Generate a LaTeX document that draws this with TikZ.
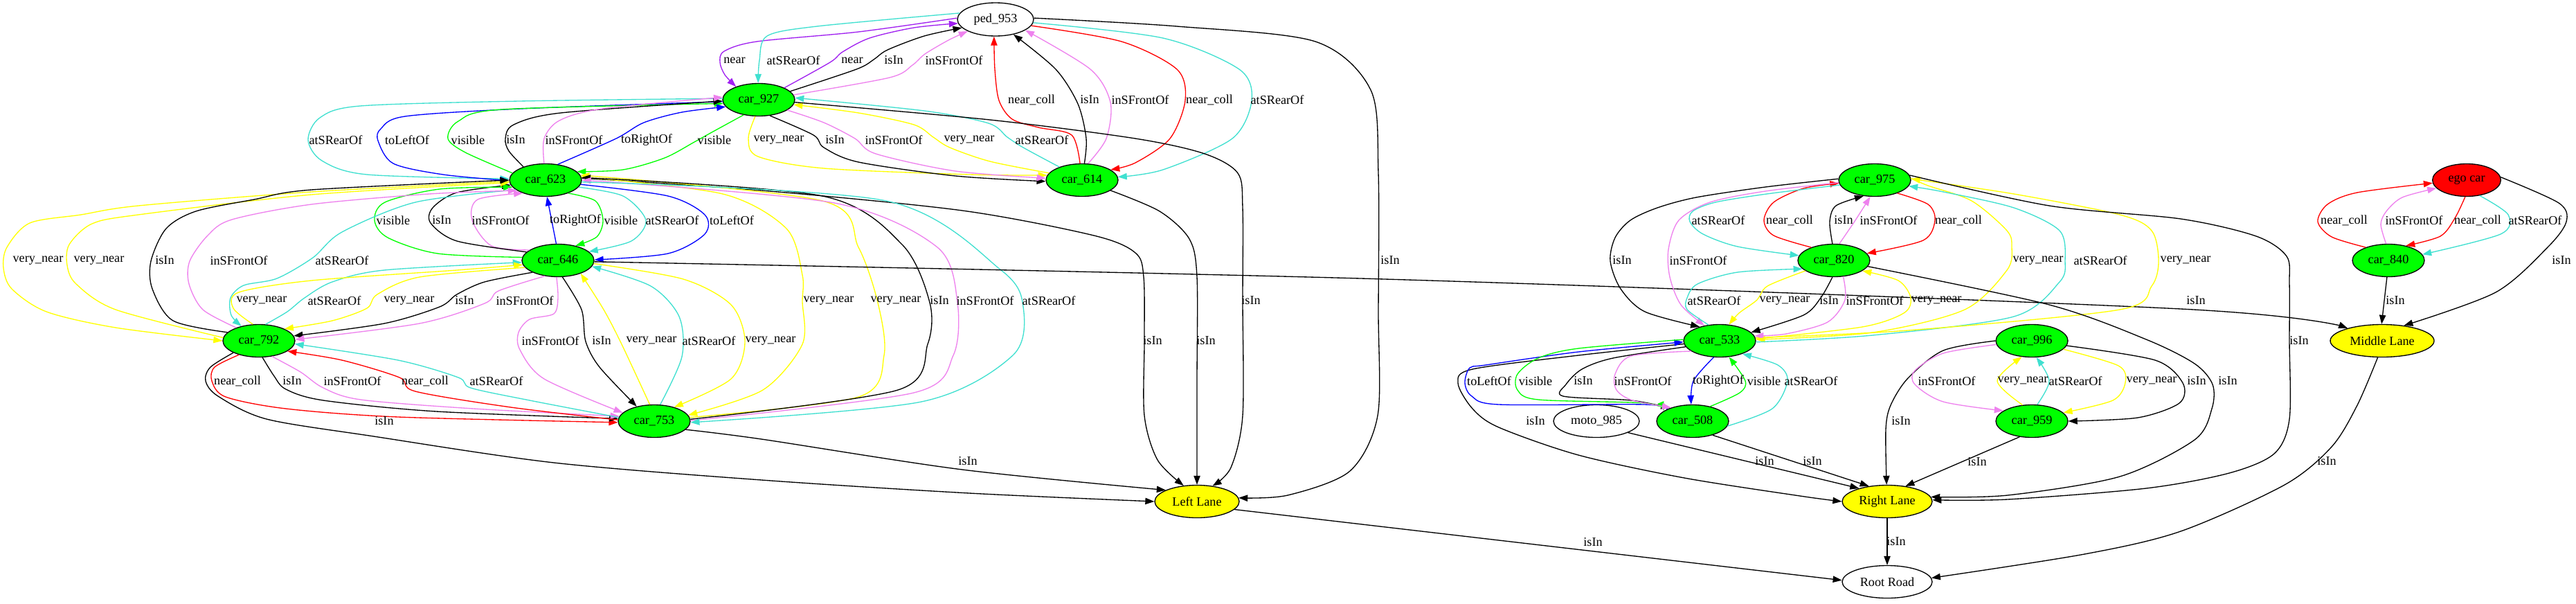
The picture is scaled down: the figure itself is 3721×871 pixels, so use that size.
\documentclass[tikz,border=0pt]{standalone}
\usepackage{fontspec}
\setmainfont{Liberation Serif}
\usetikzlibrary{shapes.geometric,arrows.meta}
\definecolor{gvturq}{HTML}{40E0D0}
\definecolor{gvviolet}{HTML}{EE82EE}
\definecolor{gvpurple}{HTML}{A020F0}
\definecolor{gvyellow}{HTML}{FFFF00}
\definecolor{gvgreen}{HTML}{00FF00}
\definecolor{gvblue}{HTML}{0000FF}
\definecolor{gvred}{HTML}{FF0000}
\newcommand\gvf{\fontsize{13.65}{16}\selectfont}
\tikzset{
  nd/.style={ellipse, draw=black, line width=1pt, minimum width=78pt, minimum height=35.25pt, inner sep=0pt, font=\gvf},
  gn/.style={nd, fill=gvgreen},
  yl/.style={nd, fill=gvyellow},
  ed/.style={line width=1pt, -{Triangle[length=9.75pt,width=7pt]}},
  ek/.style={ed, draw=black, -{Triangle[length=9.75pt,width=7pt,fill=black]}},
  et/.style={ed, draw=gvturq, -{Triangle[length=9.75pt,width=7pt,fill=gvturq]}},
  ev/.style={ed, draw=gvviolet, -{Triangle[length=9.75pt,width=7pt,fill=gvviolet]}},
  ep/.style={ed, draw=gvpurple, -{Triangle[length=9.75pt,width=7pt,fill=gvpurple]}},
  ey/.style={ed, draw=gvyellow, -{Triangle[length=9.75pt,width=7pt,fill=gvyellow]}},
  eg/.style={ed, draw=gvgreen, -{Triangle[length=9.75pt,width=7pt,fill=gvgreen]}},
  eb/.style={ed, draw=gvblue, -{Triangle[length=9.75pt,width=7pt,fill=gvblue]}},
  er/.style={ed, draw=gvred, -{Triangle[length=9.75pt,width=7pt,fill=gvred]}},
  lb/.style={inner sep=0pt, font=\gvf},
}
\begin{document}
\begin{tikzpicture}[x=0.75pt, y=-0.75pt]
\useasboundingbox (0,0) rectangle (3721,871);
\fill[white] (0,0) rectangle (3721,871);
% nodes
\node[nd, minimum width=82.5pt, minimum height=36pt] (ped) at (1438,28) {ped\_953};
\node[gn] (c927) at (1096,144) {car\_927};
\node[gn] (c623) at (788,260) {car\_623};
\node[gn] (c614) at (1563,260) {car\_614};
\node[gn] (c975) at (2708,260) {car\_975};
\node[nd, fill=gvred, minimum width=74pt] (ego) at (3563,260) {ego car};
\node[gn] (c646) at (806,376) {car\_646};
\node[gn] (c820) at (2649,376) {car\_820};
\node[gn] (c840) at (3450,376) {car\_840};
\node[gn] (c792) at (374,492) {car\_792};
\node[gn] (c533) at (2484,492) {car\_533};
\node[gn] (c996) at (2935,492) {car\_996};
\node[yl, minimum width=112.5pt] (mid) at (3441,492) {Middle Lane};
\node[gn] (c753) at (945,608) {car\_753};
\node[nd, minimum width=93pt] (moto) at (2306,608) {moto\_985};
\node[gn] (c508) at (2445,608) {car\_508};
\node[gn] (c959) at (2935,608) {car\_959};
\node[yl, minimum width=91.5pt] (left) at (1729,724) {Left Lane};
\node[yl, minimum width=97.5pt] (right) at (2726,724) {Right Lane};
\node[nd, minimum width=97.5pt] (root) at (2726,840) {Root Road};

% ped / car_927
\draw[ep] plot[smooth] coordinates {(ped.178) (1240,46) (1093,60) (1046,74) (1040,90) (1047,108) (c927.150)};
\draw[et] plot[smooth] coordinates {(ped.170) (1180,38) (1108,52) (1097,87) (c927.92)};
\draw[ep] plot[smooth] coordinates {(c927.25) (1199,90) (1217,75) (1256,55) (1320,40) (ped.186)};
\draw[ek] plot[smooth] coordinates {(c927.15) (1237,100) (1262,86) (1282,72) (1335,52) (ped.194)};
\draw[ev] plot[smooth] coordinates {(c927.8) (1285,112) (1318,94) (1336,78) (1370,58) (ped.203)};
% car_614 <-> ped
\draw[er] plot[smooth] coordinates {(c614.97) (1548,195) (1500,184) (1462,172) (1443,145) (1437,100) (ped.265)};
\draw[ek] plot[smooth] coordinates {(c614.82) (1569,200) (1557,150) (1525,100) (ped.320)};
\draw[ev] plot[smooth] coordinates {(c614.70) (1598,200) (1604,148) (1575,100) (ped.340)};
\draw[er] plot[smooth] coordinates {(ped.350) (1620,60) (1700,100) (1712,145) (1690,200) (1640,235) (c614.20)};
\draw[et] plot[smooth] coordinates {(ped.355) (1680,55) (1790,100) (1808,145) (1780,200) (1680,245) (c614.5)};
\draw[ek] plot[smooth] coordinates {(ped.2) (1700,38) (1900,60) (1980,130) (1991,250) (1991,450) (1990,600) (1950,680) (1860,715) (left.5)};
% car_927 <-> car_623
\draw[et] plot[smooth] coordinates {(c927.178) (750,146) (520,153) (462,170) (445,202) (465,232) (530,252) (c623.178)};
\draw[eb] plot[smooth] coordinates {(c927.183) (752,157) (585,168) (550,186) (546,203) (568,236) (640,252) (c623.181)};
\draw[eg] plot[smooth] coordinates {(c623.168) (672,220) (647,200) (662,175) (725,158) (c927.186)};
\draw[ek] plot[smooth] coordinates {(c623.149) (735,218) (730,200) (742,180) (810,163) (c927.182)};
\draw[ev] plot[smooth] coordinates {(c623.95) (786,200) (808,174) (870,157) (c927.176)};
\draw[eb] plot[smooth] coordinates {(c623.52) (890,200) (930,177) (985,162) (c927.192)};
\draw[eg] plot[smooth] coordinates {(c927.225) (1030,190) (1003,205) (960,228) (900,245) (c623.15)};
% car_927 <-> car_614
\draw[ey] plot[smooth] coordinates {(c927.258) (1081,200) (1095,226) (1190,243) (1400,252) (c614.172)};
\draw[ek] plot[smooth] coordinates {(c927.305) (1175,195) (1190,213) (1240,234) (1380,254) (c614.182)};
\draw[ev] plot[smooth] coordinates {(c927.340) (1190,177) (1235,200) (1265,222) (1380,247) (c614.177)};
\draw[ey] plot[smooth] coordinates {(c614.168) (1430,233) (1372,213) (1348,198) (1320,180) (1240,163) (c927.352)};
\draw[et] plot[smooth] coordinates {(c614.150) (1478,213) (1455,198) (1428,178) (1335,160) (c927.3)};
% -> Left Lane
\draw[ek] plot[smooth] coordinates {(c927.356) (1430,173) (1640,200) (1740,222) (1788,250) (1795,300) (1795,434) (1795,600) (1778,675) (left.45)};
\draw[ek] plot[smooth] coordinates {(c623.3) (1100,275) (1390,304) (1580,340) (1640,365) (1652,400) (1653,492) (1653,600) (1672,664) (left.130)};
\draw[ek] plot[smooth] coordinates {(c614.340) (1675,305) (1718,345) (1729,400) (1729,550) (left.90)};
% car_623 <-> car_646
\draw[eg] plot[smooth] coordinates {(c623.330) (860,290) (871,318) (862,342) (c646.40)};
\draw[et] plot[smooth] coordinates {(c623.348) (900,283) (933,318) (912,348) (c646.16)};
\draw[eb] plot[smooth] coordinates {(c623.353) (965,283) (1018,310) (1018,338) (965,366) (c646.1)};
\draw[eb] (c646.96) -- (c623.275);
\draw[ev] plot[smooth] coordinates {(c646.160) (710,355) (682,318) (690,288) (c623.210)};
\draw[ek] plot[smooth] coordinates {(c646.165) (660,348) (622,322) (625,300) (660,278) (c623.188)};
\draw[eg] plot[smooth] coordinates {(c646.175) (632,366) (560,343) (541,318) (556,292) (635,273) (c623.192)};
% car_623 <-> car_792
\draw[et] plot[smooth] coordinates {(c623.198) (600,292) (494,335) (452,372) (400,402) (352,412) (333,430) (334,455) (c792.140)};
\draw[ey] plot[smooth] coordinates {(c623.182) (450,277) (200,297) (117,310) (43,322) (10,357) (5,387) (17,417) (67,450) (167,473) (c792.180)};
\draw[ey] plot[smooth] coordinates {(c792.175) (167,447) (110,410) (97,383) (100,353) (133,323) (200,310) (450,281) (c623.184)};
\draw[ek] plot[smooth] coordinates {(c792.165) (250,463) (220,417) (218,377) (240,330) (283,305) (367,288) (450,274) (c623.180)};
\draw[ev] plot[smooth] coordinates {(c792.150) (293,447) (273,410) (274,377) (300,340) (335,317) (450,295) (620,280) (c623.200)};
% car_646 <-> car_792
\draw[et] plot[smooth] coordinates {(c792.68) (415,450) (440,430) (480,407) (555,390) (c646.183)};
\draw[ey] plot[smooth] coordinates {(c646.192) (606,400) (545,425) (530,445) (480,463) (c792.25)};
\draw[ey] plot[smooth] coordinates {(c792.110) (337,445) (345,422) (450,405) (660,390) (c646.187)};
\draw[ek] plot[smooth] coordinates {(c646.205) (700,407) (660,425) (635,443) (555,467) (c792.8)};
\draw[ev] plot[smooth] coordinates {(c646.230) (720,420) (700,438) (606,467) (c792.2)};
% car_646 <-> car_753
\draw[ev] plot[smooth] coordinates {(c646.265) (806,430) (800,453) (765,461) (749,480) (751,505) (786,547) (c753.165)};
\draw[ek] plot[smooth] coordinates {(c646.285) (840,447) (846,493) (866,530) (c753.140)};
\draw[ey] plot[smooth] coordinates {(c753.105) (898,497) (872,447) (c646.330)};
\draw[et] plot[smooth] coordinates {(c753.70) (985,515) (981,457) (940,413) (c646.350)};
\draw[ey] plot[smooth] coordinates {(c646.355) (987,403) (1056,440) (1076,493) (1056,547) (c753.35)};
% car_623 <-> car_753
\draw[ey] plot[smooth] coordinates {(c623.5) (1044,280) (1136,330) (1159,397) (1159,435) (1159,497) (1102,563) (c753.10)};
\draw[ey] plot[smooth] coordinates {(c753.6) (1240,573) (1277,513) (1268,437) (1240,357) (1188,290) (c623.8)};
\draw[ek] plot[smooth] coordinates {(c753.3) (1297,563) (1340,497) (1343,437) (1303,353) (1188,283) (c623.4)};
\draw[ev] plot[smooth] coordinates {(c753.1) (1320,567) (1377,513) (1383,437) (1354,357) (1205,293) (c623.0)};
\draw[et] plot[smooth] coordinates {(c623.357) (1280,290) (1446,390) (1478,443) (1463,513) (1331,580) (c753.358)};
% car_792 <-> car_753
\draw[er] plot[smooth] coordinates {(c792.215) (310,530) (306,550) (326,573) (413,590) (575,602) (c753.182)};
\draw[ek] plot[smooth] coordinates {(c792.282) (396,543) (413,562) (467,578) (630,594) (c753.176)};
\draw[ev] plot[smooth] coordinates {(c792.310) (434,537) (467,560) (521,577) (684,590) (c753.172)};
\draw[er] plot[smooth] coordinates {(c753.178) (738,588) (600,565) (577,545) (494,520) (c792.340)};
\draw[et] plot[smooth] coordinates {(c753.174) (765,578) (680,560) (662,545) (575,520) (c792.355)};
\draw[ek] plot[smooth] coordinates {(c792.205) (304,530) (297,550) (315,572) (385,605) (540,630) (800,668) (1100,693) (1400,712) (left.180)};
\draw[ek] plot[smooth] coordinates {(c753.345) (1100,634) (1390,678) (left.160)};
% car_646 -> Middle Lane
\draw[ek] plot[smooth] coordinates {(c646.-2) (2000,403) (3150,446) (mid.160)};
% lanes -> root
\draw[ek] (left.-12) -- (root.178);
\draw[ek] (right.270) -- (root.90);
\draw[ek] plot[smooth] coordinates {(mid.255) (3405,585) (3368,645) (3300,700) (3150,767) (3011,800) (root.5)};
% car_820 <-> car_975
\draw[er] plot[smooth] coordinates {(c820.150) (2562,340) (2548,318) (2562,292) (2605,272) (c975.185)};
\draw[ek] plot[smooth] coordinates {(c820.95) (2643,320) (2652,297) (c975.235)};
\draw[ev] plot[smooth] coordinates {(c820.72) (2680,318) (c975.255)};
\draw[er] plot[smooth] coordinates {(c975.330) (2785,295) (2795,318) (2778,347) (c820.12)};
\draw[et] plot[smooth] coordinates {(c975.188) (2552,280) (2478,292) (2445,305) (2441,320) (2460,338) (2510,356) (c820.172)};
% car_975 <-> car_533
\draw[ek] plot[smooth] coordinates {(c975.178) (2550,270) (2450,285) (2394,300) (2355,318) (2333,343) (2326,377) (2341,417) (2376,450) (c533.145)};
\draw[ev] plot[smooth] coordinates {(c975.184) (2550,276) (2470,292) (2425,318) (2410,360) (2412,400) (2428,440) (c533.135)};
\draw[ey] plot[smooth] coordinates {(c975.3) (2785,268) (2848,290) (2899,333) (2906,357) (2899,390) (2838,447) (2705,480) (c533.2)};
\draw[et] plot[smooth] coordinates {(c533.358) (2705,484) (2909,457) (2975,407) (2983,377) (2975,333) (2909,300) (2807,277) (c975.350)};
\draw[ey] plot[smooth] coordinates {(c533.5) (2756,477) (3062,447) (3108,413) (3118,377) (3108,333) (3062,310) (2909,280) (c975.2)};
% car_820 <-> car_533
\draw[et] plot[smooth] coordinates {(c533.125) (2437,447) (2437,430) (2452,410) (2510,393) (c820.195)};
\draw[ey] plot[smooth] coordinates {(c820.200) (2553,413) (2538,433) (2512,452) (c533.60)};
\draw[ek] plot[smooth] coordinates {(c820.265) (2630,430) (2605,455) (c533.15)};
\draw[ev] plot[smooth] coordinates {(c820.300) (2665,433) (2640,465) (2580,482) (c533.8)};
\draw[ey] plot[smooth] coordinates {(c533.3) (2690,472) (2750,452) (2760,430) (2742,405) (c820.340)};
% -> Right Lane
\draw[ek] plot[smooth] coordinates {(c975.8) (2960,297) (3150,316) (3259,341) (3303,370) (3307,410) (3307,492) (3307,605) (3285,655) (3220,683) (3100,705) (2900,721) (right.2)};
\draw[ek] plot[smooth] coordinates {(c820.-10) (2960,440) (3100,490) (3170,525) (3196,555) (3195,590) (3170,635) (3062,688) (2900,715) (right.6)};
\draw[ek] plot[smooth] coordinates {(c996.180) (2807,506) (2756,546) (2731,585) (2724,620) (right.92)};
\draw[ek] (c959.232) -- (right.40);
\draw[ek] (moto.-20) -- (right.155);
\draw[ek] (c508.-35) -- (right.140);
\draw[ek] plot[smooth] coordinates {(c533.185) (2280,513) (2127,533) (2106,553) (2127,590) (2165,617) (2280,657) (2433,690) (2600,716) (right.180)};
% car_996 <-> car_959
\draw[ek] plot[smooth] coordinates {(c996.-8) (3113,520) (3153,553) (3148,582) (3088,603) (c959.0)};
\draw[ev] plot[smooth] coordinates {(c996.186) (2807,510) (2766,535) (2766,555) (2807,580) (c959.160)};
\draw[ey] plot[smooth] coordinates {(c959.120) (2885,550) (c996.238)};
\draw[et] plot[smooth] coordinates {(c959.72) (2960,550) (c996.285)};
\draw[ey] plot[smooth] coordinates {(c996.-15) (3060,528) (3070,552) (3052,578) (c959.15)};
% car_533 <-> car_508
\draw[ek] plot[smooth] coordinates {(c533.190) (2330,517) (2285,533) (2262,555) (2258,572) (2356,578) (c508.150)};
\draw[eb] plot[smooth] coordinates {(c508.155) (2375,584) (2165,584) (2126,572) (2116,553) (2123,531) (2146,527) (2280,508) (c533.182)};
\draw[eg] plot[smooth] coordinates {(c533.178) (2280,503) (2222,517) (2192,540) (2192,563) (2222,577) (2375,582) (c508.160)};
\draw[ev] plot[smooth] coordinates {(c533.200) (2356,514) (2333,540) (2335,563) (2358,578) (c508.148)};
\draw[eb] plot[smooth] coordinates {(c533.250) (2446,550) (c508.95)};
\draw[eg] plot[smooth] coordinates {(c508.40) (2513,567) (2521,550) (c533.300)};
\draw[et] plot[smooth] coordinates {(c508.-8) (2560,590) (2582,550) (2568,527) (c533.330)};
% ego / car_840
\draw[er] plot[smooth] coordinates {(c840.150) (3368,342) (3348,320) (3362,295) (3405,278) (ego.185)};
\draw[ev] plot[smooth] coordinates {(c840.98) (3439,324) (3447,305) (3470,285) (ego.195)};
\draw[er] plot[smooth] coordinates {(ego.265) (3546,315) (3525,341) (c840.40)};
\draw[et] plot[smooth] coordinates {(ego.310) (3623,310) (3612,338) (c840.10)};
\draw[ek] plot[smooth] coordinates {(ego.5) (3696,293) (3707,320) (3680,357) (3605,422) (mid.35)};
\draw[ek] (c840.265) -- (mid.92);

% labels
\node[lb] (a1) at (1061,87) {near};
\node[lb] (a2) at (1146,87) {atSRearOf};
\node[lb] (a3) at (1231,87) {near};
\node[lb] (a4) at (1291,87) {isIn};
\node[lb] (a5) at (1378,87) {inSFrontOf};
\node[lb] (a6) at (1490,144) {near\_coll};
\node[lb] (a7) at (1574,144) {isIn};
\node[lb] (a8) at (1647,144) {inSFrontOf};
\node[lb] (a9) at (1747,144) {near\_coll};
\node[lb] (a10) at (1845,144) {atSRearOf};
\node[lb] (b1) at (485,202) {atSRearOf};
\node[lb] (b2) at (588,202) {toLeftOf};
\node[lb] (b3) at (676,202) {visible};
\node[lb] (b4) at (745,202) {isIn};
\node[lb] (b5) at (829,202) {inSFrontOf};
\node[lb] (b6) at (934,202) {toRightOf};
\node[lb] (b7) at (1032,202) {visible};
\node[lb] (b8) at (1125,202) {very\_near};
\node[lb] (b9) at (1206,202) {isIn};
\node[lb] (b10) at (1291,202) {inSFrontOf};
\node[lb] (b11) at (1400,202) {very\_near};
\node[lb] (b12) at (1505,202) {atSRearOf};
\node[lb] (c1) at (568,318) {visible};
\node[lb] (c2) at (638,318) {isIn};
\node[lb] (c3) at (723,318) {inSFrontOf};
\node[lb] (c4) at (831,318) {toRightOf};
\node[lb] (c5) at (897,318) {visible};
\node[lb] (c6) at (971,318) {atSRearOf};
\node[lb] (c7) at (1057,318) {toLeftOf};
\node[lb] (d1) at (55,376) {very\_near};
\node[lb] (d2) at (143,376) {very\_near};
\node[lb] (d3) at (238,376) {isIn};
\node[lb] (d4) at (345,376) {inSFrontOf};
\node[lb] (d5) at (494,376) {atSRearOf};
\node[lb] (d6) at (2008,376) {isIn};
\node[lb] (e1) at (378,434) {very\_near};
\node[lb] (e2) at (483,434) {atSRearOf};
\node[lb] (e3) at (591,434) {very\_near};
\node[lb] (e4) at (671,434) {isIn};
\node[lb] (e5) at (758,434) {inSFrontOf};
\node[lb] (e6) at (1197,434) {very\_near};
\node[lb] (e7) at (1294,434) {very\_near};
\node[lb] (e8) at (1357,434) {isIn};
\node[lb] (e9) at (1423,434) {inSFrontOf};
\node[lb] (e10) at (1515,434) {atSRearOf};
\node[lb] (e11) at (1807,434) {isIn};
\node[lb] (f1) at (795,492) {inSFrontOf};
\node[lb] (f2) at (869,492) {isIn};
\node[lb] (f3) at (941,492) {very\_near};
\node[lb] (f4) at (1024,492) {atSRearOf};
\node[lb] (f5) at (1113,492) {very\_near};
\node[lb] (f6) at (1665,492) {isIn};
\node[lb] (f7) at (1742,492) {isIn};
\node[lb] (g1) at (343,550) {near\_coll};
\node[lb] (g2) at (422,550) {isIn};
\node[lb] (g3) at (509,550) {inSFrontOf};
\node[lb] (g4) at (614,550) {near\_coll};
\node[lb] (g5) at (717,550) {atSRearOf};
\node[lb] (g6) at (555,608) {isIn};
\node[lb] (g7) at (1398,666) {isIn};
\node[lb] (g8) at (2301,783) {isIn};
\node[lb] (g9) at (3172,434) {isIn};
\node[lb] (h1) at (2482,318) {atSRearOf};
\node[lb] (h2) at (2585,318) {near\_coll};
\node[lb] (h3) at (2663,318) {isIn};
\node[lb] (h4) at (2728,318) {inSFrontOf};
\node[lb] (h5) at (2829,318) {near\_coll};
\node[lb] (i1) at (2343,376) {isIn};
\node[lb] (i2) at (2453,376) {inSFrontOf};
\node[lb] (i3) at (2944,376) {very\_near};
\node[lb] (i4) at (3034,376) {atSRearOf};
\node[lb] (i5) at (3157,376) {very\_near};
\node[lb] (j1) at (2476,434) {atSRearOf};
\node[lb] (j2) at (2578,434) {very\_near};
\node[lb] (j3) at (2642,434) {isIn};
\node[lb] (j4) at (2708,434) {inSFrontOf};
\node[lb] (j5) at (2797,434) {very\_near};
\node[lb] (k1) at (2151,550) {toLeftOf};
\node[lb] (k2) at (2218,550) {visible};
\node[lb] (k3) at (2287,550) {isIn};
\node[lb] (k4) at (2373,550) {inSFrontOf};
\node[lb] (k5) at (2482,550) {toRightOf};
\node[lb] (k6) at (2548,550) {visible};
\node[lb] (k7) at (2616,550) {atSRearOf};
\node[lb] (k8) at (2218,608) {isIn};
\node[lb] (m1) at (2812,550) {inSFrontOf};
\node[lb] (m2) at (2922,550) {very\_near};
\node[lb] (m3) at (2998,550) {atSRearOf};
\node[lb] (m4) at (3108,550) {very\_near};
\node[lb] (m5) at (3173,550) {isIn};
\node[lb] (m6) at (3218,550) {isIn};
\node[lb] (m7) at (2746,608) {isIn};
\node[lb] (n1) at (2549,666) {isIn};
\node[lb] (n2) at (2618,666) {isIn};
\node[lb] (n3) at (2856,667) {isIn};
\node[lb] (n4) at (3321,492) {isIn};
\node[lb] (n5) at (2739,782) {isIn};
\node[lb] (n6) at (3361,666) {isIn};
\node[lb] (p1) at (3386,318) {near\_coll};
\node[lb] (p2) at (3487,318) {inSFrontOf};
\node[lb] (p3) at (3579,318) {near\_coll};
\node[lb] (p4) at (3662,318) {atSRearOf};
\node[lb] (p5) at (3700,376) {isIn};
\node[lb] (p6) at (3460,434) {isIn};
\end{tikzpicture}
\end{document}
